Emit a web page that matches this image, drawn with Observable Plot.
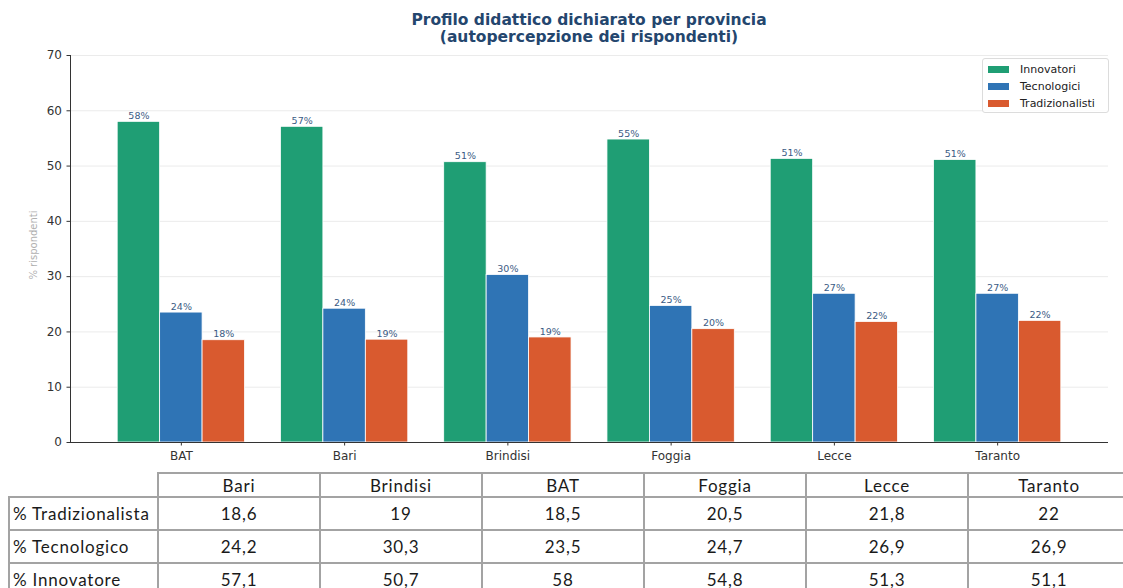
<!DOCTYPE html>
<html>
<head>
<meta charset="utf-8">
<script src="https://cdn.jsdelivr.net/npm/d3@7"></script>
<script src="https://cdn.jsdelivr.net/npm/@observablehq/plot@0.6"></script>
<style>
  html, body { margin: 0; padding: 0; background: #fff; width: 1123px; height: 588px; overflow: hidden; }
  #title { width: 1178px; text-align: center; font-family: "DejaVu Sans", sans-serif; font-weight: bold;
           font-size: 15.5px; line-height: 17px; color: #24466e; padding-top: 12px; height: 33px; }
  #wrap { position: relative; width: 1123px; height: 421px; }
  #wrap svg { display: block; }
  #ylab { position: absolute; left: 33px; top: 200px; transform: translate(-50%, -50%) rotate(-90deg);
          font-family: "DejaVu Sans", sans-serif; font-size: 10px; color: #b0b0b0; white-space: nowrap; }
  #legend { position: absolute; left: 982px; top: 13px; width: 127px; height: 55px; border: 1px solid #dcdcdc;
            border-radius: 3px; background: rgba(255,255,255,0.85); font-family: "DejaVu Sans", sans-serif;
            font-size: 11px; color: #222; padding-top: 2px; box-sizing: border-box; }
  #legend .item { height: 17px; display: flex; align-items: center; }
  #legend .sw { width: 21px; height: 7px; margin-left: 5px; margin-right: 11px; }
  #tablebox { width: 1400px; }
  table { border-collapse: collapse; table-layout: fixed; width: 1121px; margin-left: 8px; margin-top: 6px;
          font-family: "Lato", sans-serif; font-size: 17px; letter-spacing: 0.8px; color: #1a1a1a; }
  td { border: 2px solid #a3a3a3; text-align: center; padding: 0; }
  tr.head td { height: 22px; }
  tr.body td { height: 31px; }
  td.lab { text-align: left; padding-left: 3px; }
  td.corner { border-top: none; border-left: none; }
</style>
</head>
<body>
<div id="title">Profilo didattico dichiarato per provincia<br>(autopercepzione dei rispondenti)</div>
<div id="wrap"></div>
<div id="tablebox"></div>
<script>
// ---- data ----
const provinces = ["BAT", "Bari", "Brindisi", "Foggia", "Lecce", "Taranto"];
const seriesNames = ["Innovatori", "Tecnologici", "Tradizionalisti"];
const innovatori = [58, 57.1, 50.7, 54.8, 51.3, 51.1];
const tecnologici = [23.5, 24.2, 30.3, 24.7, 26.9, 26.9];
const tradizionalisti = [18.5, 18.6, 19, 20.5, 21.8, 22];
const seriesColors = ["#1f9e74", "#2f74b5", "#d95a2f"];
const yTicks = [0, 10, 20, 30, 40, 50, 60, 70];

const tableColumns = ["Bari", "Brindisi", "BAT", "Foggia", "Lecce", "Taranto"];
const tableRowLabels = ["% Tradizionalista", "% Tecnologico", "% Innovatore"];

// ---- build ----
const seriesValues = [innovatori, tecnologici, tradizionalisti];
const barWidth = 0.26;
function roundHalfEven(v) {
  const f = Math.floor(v), d = v - f;
  if (Math.abs(d - 0.5) < 1e-9) return f % 2 === 0 ? f : f + 1;
  return Math.round(v);
}
const rows = [];
provinces.forEach((p, i) => {
  seriesValues.forEach((vals, k) => {
    const c = i + (k - 1) * barWidth;
    rows.push({province: p, series: seriesNames[k], value: vals[i],
               x1: c - barWidth / 2, x2: c + barWidth / 2, xc: c,
               label: roundHalfEven(vals[i]) + "%"});
  });
});
const pad = 0.05 * (provinces.length - 1 + barWidth * 3);
const xDomain = [-barWidth * 1.5 - pad, provinces.length - 1 + barWidth * 1.5 + pad];

const chart = Plot.plot({
  width: 1123, height: 421,
  marginLeft: 70, marginRight: 15, marginTop: 10, marginBottom: 24,
  style: {fontFamily: "DejaVu Sans, sans-serif", fontSize: "12px", color: "#333", background: "white"},
  x: {type: "linear", domain: xDomain},
  y: {domain: [0, 70]},
  color: {domain: seriesNames, range: seriesColors},
  marks: [
    Plot.ruleY(yTicks.slice(1), {stroke: "#ebebeb", strokeWidth: 1}),
    Plot.rectY(rows, {x1: "x1", x2: "x2", y1: 0, y2: "value", fill: "series", stroke: "white", strokeWidth: 0.8}),
    Plot.text(rows, {x: "xc", y: "value", text: "label", dy: -6, fontSize: 9.5, fill: "#3b5b84"}),
    Plot.ruleX([xDomain[0]], {y1: 0, y2: 70, stroke: "#333", strokeWidth: 1}),
    Plot.ruleY([0], {stroke: "#333", strokeWidth: 1}),
    Plot.axisY({ticks: yTicks, tickSize: 3.5, tickPadding: 5, label: null, fontSize: 12, fill: "#333", stroke: "#333"}),
    Plot.axisX({ticks: provinces.map((_, i) => i), tickFormat: i => provinces[i], tickSize: 3.5,
                tickPadding: 5, label: null, fontSize: 12, fill: "#333", stroke: "#333"})
  ]
});
const wrap = document.getElementById("wrap");
wrap.appendChild(chart);

const ylab = document.createElement("div");
ylab.id = "ylab"; ylab.textContent = "% rispondenti";
wrap.appendChild(ylab);

const legend = document.createElement("div");
legend.id = "legend";
seriesNames.forEach((s, k) => {
  const it = document.createElement("div"); it.className = "item";
  const sw = document.createElement("div"); sw.className = "sw"; sw.style.background = seriesColors[k];
  const tx = document.createElement("span"); tx.textContent = s;
  it.appendChild(sw); it.appendChild(tx); legend.appendChild(it);
});
wrap.appendChild(legend);

// ---- table ----
const fmt = v => String(v).replace(".", ",");
const tableSeries = [tradizionalisti, tecnologici, innovatori];
let html = '<table><colgroup><col style="width:149px">' +
  tableColumns.map(() => '<col style="width:162px">').join("") + '</colgroup>';
html += '<tr class="head"><td class="corner"></td>' + tableColumns.map(c => `<td>${c}</td>`).join("") + '</tr>';
tableRowLabels.forEach((lab, r) => {
  html += `<tr class="body"><td class="lab">${lab}</td>` +
    tableColumns.map(c => `<td>${fmt(tableSeries[r][provinces.indexOf(c)])}</td>`).join("") + '</tr>';
});
html += '</table>';
document.getElementById("tablebox").innerHTML = html;
</script>
</body>
</html>
